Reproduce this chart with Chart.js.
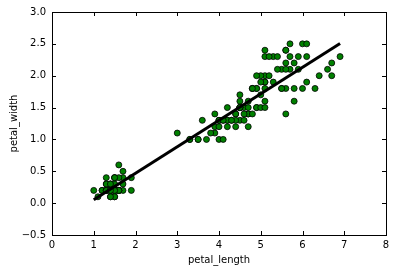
<!DOCTYPE html>
<html>
<head>
<meta charset="utf-8">
<script src="https://cdn.jsdelivr.net/npm/chart.js@4"></script>
<style>
  html, body { margin: 0; padding: 0; background: #fff; }
  #wrap { width: 396px; height: 272px; }
</style>
</head>
<body>
<div id="wrap"><canvas id="chart" width="396" height="272"></canvas></div>
<script>
// iris petal measurements
const petalLength = [
  1.4,1.4,1.3,1.5,1.4,1.7,1.4,1.5,1.4,1.5,1.5,1.6,1.4,1.1,1.2,1.5,1.3,1.4,1.7,1.5,
  1.7,1.5,1.0,1.7,1.9,1.6,1.6,1.5,1.4,1.6,1.6,1.5,1.5,1.4,1.5,1.2,1.3,1.4,1.3,1.5,
  1.3,1.3,1.3,1.6,1.9,1.4,1.6,1.4,1.5,1.4,
  4.7,4.5,4.9,4.0,4.6,4.5,4.7,3.3,4.6,3.9,3.5,4.2,4.0,4.7,3.6,4.4,4.5,4.1,4.5,3.9,
  4.8,4.0,4.9,4.7,4.3,4.4,4.8,5.0,4.5,3.5,3.8,3.7,3.9,5.1,4.5,4.5,4.7,4.4,4.1,4.0,
  4.4,4.6,4.0,3.3,4.2,4.2,4.2,4.3,3.0,4.1,
  6.0,5.1,5.9,5.6,5.8,6.6,4.5,6.3,5.8,6.1,5.1,5.3,5.5,5.0,5.1,5.3,5.5,6.7,6.9,5.0,
  5.7,4.9,6.7,4.9,5.7,6.0,4.8,4.9,5.6,5.8,6.1,6.4,5.6,5.1,5.6,6.1,5.6,5.5,4.8,5.4,
  5.6,5.1,5.1,5.9,5.7,5.2,5.0,5.2,5.4,5.1
];
const petalWidth = [
  0.2,0.2,0.2,0.2,0.2,0.4,0.3,0.2,0.2,0.1,0.2,0.2,0.1,0.1,0.2,0.4,0.4,0.3,0.3,0.3,
  0.2,0.4,0.2,0.5,0.2,0.2,0.4,0.2,0.2,0.2,0.2,0.4,0.1,0.2,0.2,0.2,0.2,0.1,0.2,0.2,
  0.3,0.3,0.2,0.6,0.4,0.3,0.2,0.2,0.2,0.2,
  1.4,1.5,1.5,1.3,1.5,1.3,1.6,1.0,1.3,1.4,1.0,1.5,1.0,1.4,1.3,1.4,1.5,1.0,1.5,1.1,
  1.8,1.3,1.5,1.2,1.3,1.4,1.4,1.7,1.5,1.0,1.1,1.0,1.2,1.6,1.5,1.6,1.5,1.3,1.3,1.3,
  1.2,1.4,1.2,1.0,1.3,1.2,1.3,1.3,1.1,1.3,
  2.5,1.9,2.1,1.8,2.2,2.1,1.7,1.8,1.8,2.5,2.0,1.9,2.1,2.0,2.4,2.3,1.8,2.2,2.3,1.5,
  2.3,2.0,2.0,1.8,2.1,1.8,1.8,1.8,2.1,1.6,1.9,2.0,2.2,1.5,1.4,2.3,2.4,1.8,1.8,2.1,
  2.4,2.3,1.9,2.3,2.5,2.3,1.9,2.0,2.3,1.8
];

// fitted line end points
const fitX = [1.0, 6.9];
const fitY = [0.053, 2.506];

const xTicks = [0, 1, 2, 3, 4, 5, 6, 7, 8];
const yTicks = [-0.5, 0.0, 0.5, 1.0, 1.5, 2.0, 2.5, 3.0];

const FONT = 'DejaVu Sans';

const frame = {
    id: 'frame',
    afterDatasetsDraw(chart) {
        const { ctx, chartArea: a, scales: { x, y } } = chart;
        ctx.save();
        ctx.strokeStyle = '#000';
        ctx.lineWidth = 1;
        ctx.beginPath();
        xTicks.forEach(v => {
            const px = Math.round(x.getPixelForValue(v)) + 0.5;
            ctx.moveTo(px, a.bottom); ctx.lineTo(px, a.bottom - 4);
            ctx.moveTo(px, a.top); ctx.lineTo(px, a.top + 4);
        });
        yTicks.forEach(v => {
            const py = Math.round(y.getPixelForValue(v)) + 0.5;
            ctx.moveTo(a.left, py); ctx.lineTo(a.left + 4, py);
            ctx.moveTo(a.right, py); ctx.lineTo(a.right - 4, py);
        });
        ctx.stroke();
        ctx.strokeRect(Math.round(a.left) + 0.5, Math.round(a.top) + 0.5,
            Math.round(a.right - a.left), Math.round(a.bottom - a.top));
        ctx.restore();
    }
};

new Chart(document.getElementById('chart').getContext('2d'), {
    type: 'scatter',
    data: {
        datasets: [
            {
                type: 'line',
                label: 'fit',
                data: fitX.map((v, i) => ({ x: v, y: fitY[i] })),
                borderColor: '#000',
                borderWidth: 3,
                pointRadius: 0,
                fill: false,
                order: 0
            },
            {
                label: 'iris',
                data: petalLength.map((v, i) => ({ x: v, y: petalWidth[i] })),
                backgroundColor: '#008000',
                borderColor: '#000',
                borderWidth: 0.8,
                pointRadius: 3,
                order: 1
            }
        ]
    },
    options: {
        responsive: false,
        animation: false,
        events: [],
        layout: { padding: { top: 12, right: 10, left: 0, bottom: 0 } },
        plugins: { legend: { display: false }, tooltip: { enabled: false } },
        scales: {
            x: {
                type: 'linear',
                min: 0, max: 8,
                afterBuildTicks: s => { s.ticks = xTicks.map(v => ({ value: v })); },
                afterFit: s => { s.height = 37; },
                grid: { display: false, drawTicks: false },
                border: { display: false },
                ticks: { color: '#000', padding: 4, font: { family: FONT, size: 10 } },
                title: { display: true, text: 'petal_length', color: '#000',
                    padding: { top: 0, bottom: 6 }, font: { family: FONT, size: 10 } }
            },
            y: {
                type: 'linear',
                min: -0.5, max: 3.0,
                afterBuildTicks: s => { s.ticks = yTicks.map(v => ({ value: v })); },
                afterFit: s => { s.width = 52; },
                grid: { display: false, drawTicks: false },
                border: { display: false },
                ticks: { color: '#000', padding: 6, font: { family: FONT, size: 10 },
                    callback: v => v.toFixed(1).replace('-', '\u2212') },
                title: { display: true, text: 'petal_width', color: '#000',
                    padding: { top: 8, bottom: 0 }, font: { family: FONT, size: 10 } }
            }
        }
    },
    plugins: [frame]
});
</script>
</body>
</html>
